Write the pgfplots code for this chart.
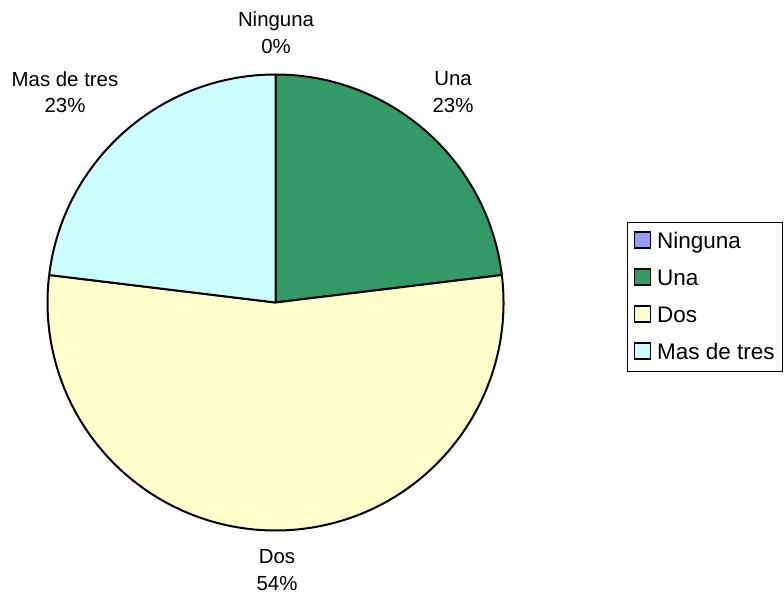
\documentclass[border=0pt]{standalone}
\usepackage{pgfplots}
\pgfplotsset{compat=1.18}
\usepackage{fontspec}
\setmainfont{Liberation Sans}
\definecolor{cNinguna}{HTML}{9999FF}
\definecolor{cUna}{HTML}{339966}
\definecolor{cDos}{HTML}{FFFFCC}
\definecolor{cMas}{HTML}{CCFFFF}
\begin{document}
\begin{tikzpicture}
% responses per category: Ninguna, Una, Dos, Mas de tres
\def\vNinguna{0}
\def\vUna{3}
\def\vDos{7}
\def\vMas{3}
\pgfmathsetmacro\total{\vNinguna+\vUna+\vDos+\vMas}
\pgfmathsetmacro\aA{90}
\pgfmathsetmacro\aB{\aA-360*\vNinguna/\total}
\pgfmathsetmacro\aC{\aB-360*\vUna/\total}
\pgfmathsetmacro\aD{\aC-360*\vDos/\total}
\pgfmathsetmacro\aE{\aD-360*\vMas/\total}
\begin{axis}[
  x=1pt, y=1pt, scale only axis,
  xmin=0, xmax=784, ymin=0, ymax=596,
  y dir=reverse, hide axis, clip=false]
  \path[fill=white] (axis cs:0,0) rectangle (axis cs:784,596);
  % wedges
  \filldraw[fill=cNinguna, draw=black, line width=2pt] (axis cs:275.5,302.5) -- ++(\aA:228pt) arc[start angle=\aA, end angle=\aB, radius=228pt] -- cycle;
  \filldraw[fill=cUna, draw=black, line width=2pt, line join=round] (axis cs:275.5,302.5) -- ++(\aB:228pt) arc[start angle=\aB, end angle=\aC, radius=228pt] -- cycle;
  \filldraw[fill=cDos, draw=black, line width=2pt, line join=round] (axis cs:275.5,302.5) -- ++(\aC:228pt) arc[start angle=\aC, end angle=\aD, radius=228pt] -- cycle;
  \filldraw[fill=cMas, draw=black, line width=2pt, line join=round] (axis cs:275.5,302.5) -- ++(\aD:228pt) arc[start angle=\aD, end angle=\aE, radius=228pt] -- cycle;
  % labels
  \tikzset{lbl/.style={anchor=base, inner sep=0pt, font=\fontsize{20.4}{24}\selectfont}}
  \node[lbl] at (axis cs:276,27) {Ninguna};
  \node[lbl] at (axis cs:276,54) {0\%};
  \node[lbl] at (axis cs:453,86) {Una};
  \node[lbl] at (axis cs:453,113) {23\%};
  \node[lbl] at (axis cs:65,87) {Mas de tres};
  \node[lbl] at (axis cs:65,113) {23\%};
  \node[lbl] at (axis cs:277,563) {Dos};
  \node[lbl] at (axis cs:277,590) {54\%};
  % legend
  \draw[line width=1pt] (axis cs:627,222) rectangle (axis cs:782,371);
  \tikzset{leg/.style={anchor=base west, inner sep=0pt, font=\fontsize{22.5}{26}\selectfont}}
  \draw[fill=cNinguna, line width=1.8pt] (axis cs:634.5,232) rectangle (axis cs:650.5,248);
  \node[leg] at (axis cs:657,248) {Ninguna};
  \draw[fill=cUna, line width=1.8pt] (axis cs:634.5,269) rectangle (axis cs:650.5,285);
  \node[leg] at (axis cs:657,285) {Una};
  \draw[fill=cDos, line width=1.8pt] (axis cs:634.5,306) rectangle (axis cs:650.5,322);
  \node[leg] at (axis cs:657,322) {Dos};
  \draw[fill=cMas, line width=1.8pt] (axis cs:634.5,343) rectangle (axis cs:650.5,359);
  \node[leg] at (axis cs:657,359) {Mas de tres};
\end{axis}
\end{tikzpicture}
\end{document}
